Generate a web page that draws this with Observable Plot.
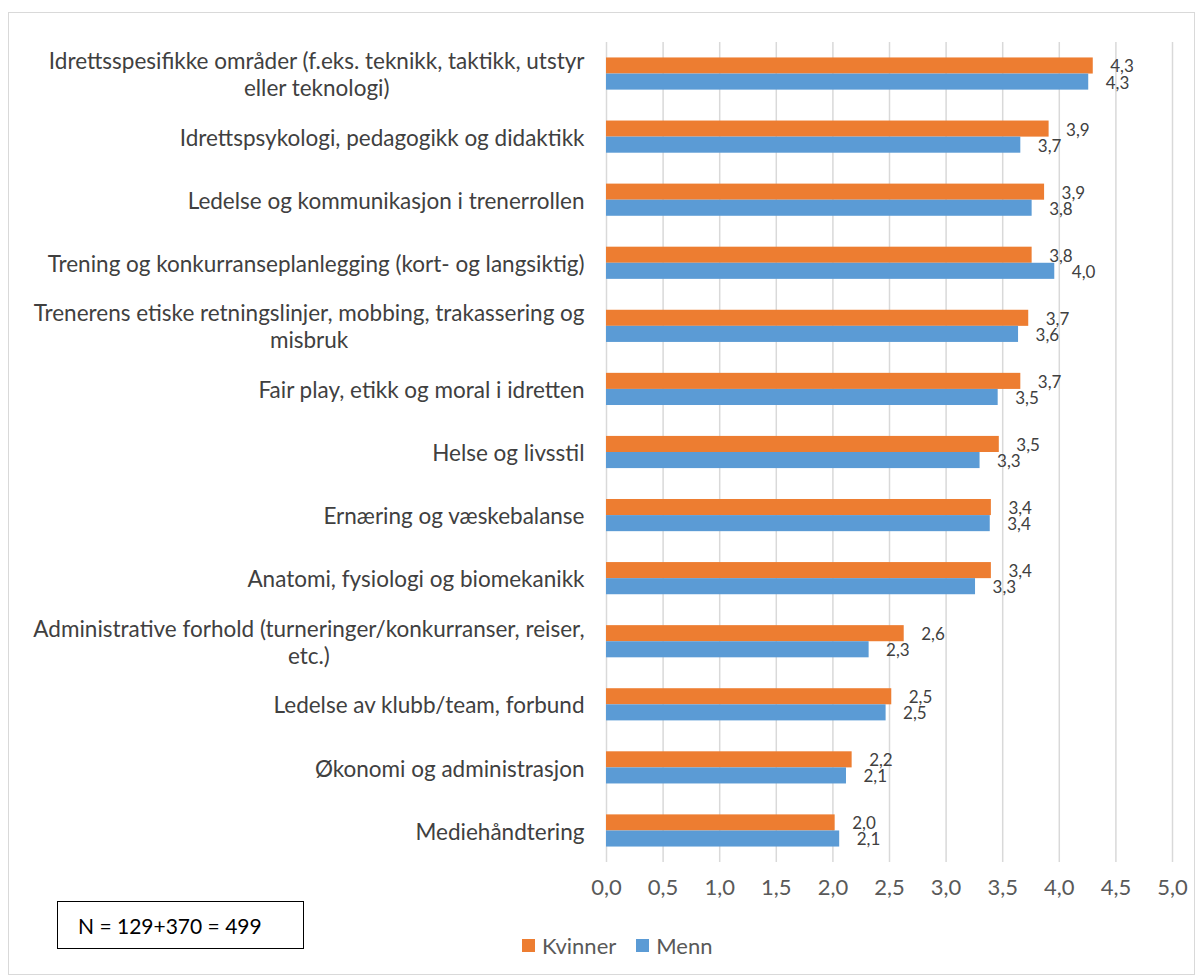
<!DOCTYPE html>
<html>
<head>
<meta charset="utf-8">
<script src="https://cdn.jsdelivr.net/npm/d3@7"></script>
<script src="https://cdn.jsdelivr.net/npm/@observablehq/plot@0.6"></script>
<style>
  html, body { margin: 0; padding: 0; background: #fff; }
  body { width: 1203px; height: 978px; position: relative; overflow: hidden; font-family: Lato, "Open Sans", sans-serif; }
  #frame { position: absolute; left: 8px; top: 12px; width: 1187px; height: 963px; border: 1px solid #d9d9d9; box-sizing: border-box; }
  #chart { position: absolute; left: 0; top: 0; }
  #legend { position: absolute; left: 522px; top: 932px; display: flex; align-items: center; font-size: 22px; color: #595959; }
  #legend .sw { width: 13px; height: 13px; display: inline-block; margin-right: 7px; }
  #legend .item { display: flex; align-items: center; margin-right: 20px; }
  #nbox { position: absolute; left: 57px; top: 901px; width: 247px; height: 48px; border: 1px solid #000; box-sizing: border-box; font-size: 21px; color: #000; display: flex; align-items: center; padding-left: 20px; }
</style>
</head>
<body>
<div id="frame"></div>
<div id="chart"></div>
<div id="legend"></div>
<div id="nbox">N = 129+370 = 499</div>
<script>
const categories = [
  "Idrettsspesifikke områder (f.eks. teknikk, taktikk, utstyr\neller teknologi)",
  "Idrettspsykologi, pedagogikk og didaktikk",
  "Ledelse og kommunikasjon i trenerrollen",
  "Trening og konkurranseplanlegging (kort- og langsiktig)",
  "Trenerens etiske retningslinjer, mobbing, trakassering og\nmisbruk",
  "Fair play, etikk og moral i idretten",
  "Helse og livsstil",
  "Ernæring og væskebalanse",
  "Anatomi, fysiologi og biomekanikk",
  "Administrative forhold (turneringer/konkurranser, reiser,\netc.)",
  "Ledelse av klubb/team, forbund",
  "Økonomi og administrasjon",
  "Mediehåndtering"
];
const kvinner = [4.30, 3.91, 3.87, 3.76, 3.73, 3.66, 3.47, 3.40, 3.40, 2.63, 2.52, 2.17, 2.02];
const menn    = [4.26, 3.66, 3.76, 3.96, 3.64, 3.46, 3.30, 3.39, 3.26, 2.32, 2.47, 2.12, 2.06];
const seriesNames = ["Kvinner", "Menn"];
const seriesColors = ["#ED7D31", "#5B9BD5"];
const xTicks = [0, 0.5, 1, 1.5, 2, 2.5, 3, 3.5, 4, 4.5, 5];

const rowsK = categories.map((c, i) => ({category: c, series: "Kvinner", value: kvinner[i]}));
const rowsM = categories.map((c, i) => ({category: c, series: "Menn", value: menn[i]}));

const loc = d3.formatLocale({decimal: ",", thousands: " ", grouping: [3], currency: ["", " kr"]});
const fmt = loc.format(".1f");

const W = 1203, H = 915, mT = 42, mB = 53, mL = 606, mR = 31;
const pIn = 0.49, pOut = 0.245;
const step = (H - mT - mB) / (categories.length - pIn + 2 * pOut);
const bw = step * (1 - pIn);
const half = bw / 2;

const catFont = 22.5, tickFont = 22, valFont = 17;

const svg = Plot.plot({
  width: W, height: H,
  marginTop: mT, marginBottom: mB, marginLeft: mL, marginRight: mR,
  style: {fontFamily: "Lato, 'Open Sans', sans-serif", background: "transparent", overflow: "visible"},
  x: {domain: [0, 5], label: null},
  y: {domain: categories, paddingInner: pIn, paddingOuter: pOut, round: false, label: null},
  marks: [
    Plot.gridX(xTicks, {stroke: "#d9d9d9", strokeOpacity: 1, strokeWidth: 1.5}),
    Plot.barX(rowsK, {x: "value", y: "category", fill: seriesColors[0], insetBottom: half}),
    Plot.barX(rowsM, {x: "value", y: "category", fill: seriesColors[1], insetTop: half}),
    Plot.text(rowsK, {x: "value", y: "category", text: d => fmt(d.value), dx: 17, dy: -half / 2 + 1, textAnchor: "start", fontSize: valFont, fill: "#404040"}),
    Plot.text(rowsM, {x: "value", y: "category", text: d => fmt(d.value), dx: 17, dy: half / 2 + 1, textAnchor: "start", fontSize: valFont, fill: "#404040"}),
    Plot.axisX(xTicks, {tickSize: 0, tickPadding: 17, tickFormat: fmt, fontSize: tickFont, color: "#595959", label: null}),
    Plot.axisY({tickSize: 0, tickPadding: 22, fontSize: catFont, lineHeight: 27 / catFont, color: "#404040", label: null})
  ]
});
document.getElementById("chart").appendChild(svg);

// center wrapped category labels (Excel style)
svg.querySelectorAll('g[aria-label="y-axis tick label"] text').forEach(t => {
  const spans = t.querySelectorAll("tspan");
  if (spans.length > 1) {
    let w = 0;
    spans.forEach(s => { w = Math.max(w, s.getComputedTextLength()); });
    t.setAttribute("text-anchor", "middle");
    spans.forEach(s => s.setAttribute("x", -w / 2));
  }
});

// legend
const lg = document.getElementById("legend");
seriesNames.forEach((n, i) => {
  const it = document.createElement("span");
  it.className = "item";
  const sw = document.createElement("span");
  sw.className = "sw";
  sw.style.background = seriesColors[i];
  it.appendChild(sw);
  it.appendChild(document.createTextNode(n));
  lg.appendChild(it);
});
</script>
</body>
</html>
